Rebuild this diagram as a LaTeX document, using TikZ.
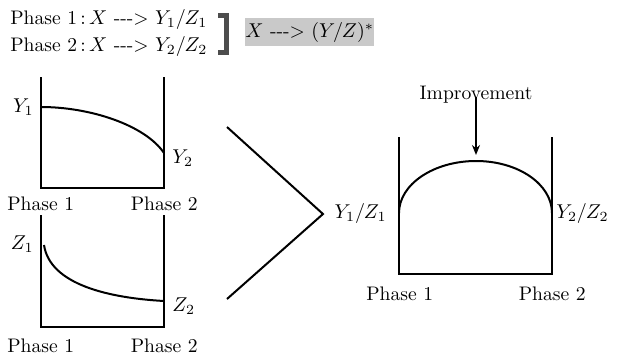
\documentclass[tikz,border=0pt]{standalone}
\usetikzlibrary{arrows.meta}
\definecolor{brk}{HTML}{4D4D4D}
\definecolor{boxg}{HTML}{C9C9C9}
\begin{document}
\begin{tikzpicture}[x=0.5pt,y=-0.5pt,
  font=\fontsize{9.8}{11.5}\selectfont,
  axis/.style={line width=1.2pt, line join=miter},
  crv/.style={line width=1pt},
  lbl/.style={inner sep=0pt}]
\useasboundingbox (0,0) rectangle (617,359);

% header
\node[lbl,anchor=base west] (p1) at (10,24) {Phase 1\,:\,$X$ -{}-{}-> $Y_1/Z_1$};
\node[lbl,anchor=base west] (p2) at (10,51) {Phase 2\,:\,$X$ -{}-{}-> $Y_2/Z_2$};
\draw[brk, line width=2.5pt, line join=miter] (218,15.5) -- (226.5,15.5) -- (226.5,52.5) -- (218,52.5);
\node[fill=boxg, inner sep=0pt, minimum width=61.5pt, minimum height=14pt, anchor=north west] (res) at (245,18) {$X$ -{}-{}-> $(Y/Z)^{*}$};

% top-left chart
\draw[axis] (41,77) -- (41,188) -- (164,188) -- (164,77);
\coordinate (ya) at (41,107);
\coordinate (yb) at (164,153);
\draw[crv] (ya) .. controls (90,107) and (145,125) .. (yb);
\node[lbl,anchor=base east] (y1) at (34,112) {$Y_1$};
\node[lbl,anchor=base west] (y2) at (172,163) {$Y_2$};
\node[lbl,anchor=base west] (a1) at (7,210) {Phase 1};
\node[lbl,anchor=base east] (a2) at (198,210) {Phase 2};

% bottom-left chart
\draw[axis] (41,215) -- (41,327) -- (164,327) -- (164,215);
\coordinate (za) at (44,245);
\coordinate (zb) at (164,301);
\draw[crv] (za) .. controls (50,285) and (110,298) .. (zb);
\node[lbl,anchor=base east] (z1) at (34,249) {$Z_1$};
\node[lbl,anchor=base west] (z2) at (172,311) {$Z_2$};
\node[lbl,anchor=base west] (b1) at (7,352) {Phase 1};
\node[lbl,anchor=base east] (b2) at (198,352) {Phase 2};

% chevron
\coordinate (ct) at (227,127);
\coordinate (cm) at (323,214);
\coordinate (cb) at (227,299);
\draw[crv, line join=miter] (ct) -- (cm) -- (cb);

% right chart
\draw[axis] (399,137) -- (399,274) -- (552,274) -- (552,137);
\coordinate (ra) at (399,213);
\coordinate (rt) at (476,161);
\coordinate (rb) at (552,213);
\draw[crv] (ra) .. controls (399,184.3) and (433.7,161) .. (rt)
  .. controls (518.3,161) and (552,184.3) .. (rb);
\node[lbl,anchor=base east] (r1) at (387,218) {$Y_1/Z_1$};
\node[lbl,anchor=base west] (r2) at (556,218) {$Y_2/Z_2$};
\node[lbl,anchor=base west] (c1) at (366,300) {Phase 1};
\node[lbl,anchor=base east] (c2) at (586,300) {Phase 2};
\node[lbl,anchor=base] (imp) at (476,99) {Improvement};
\draw[line width=1pt, -{Stealth[length=5pt,width=4pt]}, shorten >=3pt] (imp.south) ++(0,-6) -- (rt);
\end{tikzpicture}
\end{document}
